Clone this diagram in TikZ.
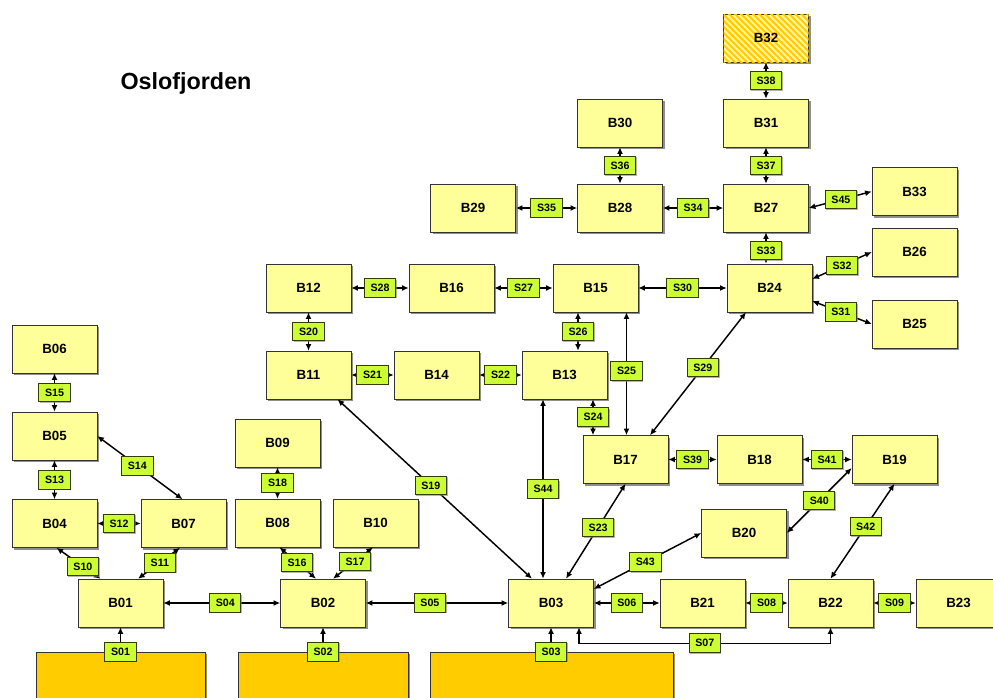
\documentclass[tikz,border=0pt]{standalone}
\usepackage{fontspec}
\setmainfont{Liberation Sans}
\usetikzlibrary{calc}
\usetikzlibrary{positioning}
\usetikzlibrary{arrows.meta}
\usetikzlibrary{shadows,patterns.meta}
\definecolor{basinyellow}{HTML}{FFFF99}
\definecolor{hatchlight}{HTML}{FFF4A8}
\definecolor{sourcegold}{HTML}{FFCC00}
\definecolor{sillgreen}{HTML}{CCFF33}
\definecolor{silledge}{HTML}{3A3A00}

\begin{document}
\begin{tikzpicture}[%
  x=0.75pt, y=-0.75pt,
  >={Latex[length=5pt,width=4.5pt]},
  basin/.style={draw=black!80, fill=basinyellow, minimum width=63.75pt,
    minimum height=36pt, inner sep=0pt, font=\bfseries\fontsize{10}{12}\selectfont,
    drop shadow={shadow xshift=1.5pt, shadow yshift=-1.5pt, fill=black!55, opacity=0.8}},
  source/.style={draw=black!80, fill=sourcegold, minimum height=45pt, inner sep=0pt,
    drop shadow={shadow xshift=1.5pt, shadow yshift=-1.5pt, fill=black!55, opacity=0.8}},
  sill/.style={draw=silledge, fill=sillgreen, line width=0.7pt, minimum width=23.5pt,
    minimum height=14pt, inner sep=0pt, font=\bfseries\fontsize{8}{9}\selectfont,
    drop shadow={shadow xshift=0.8pt, shadow yshift=-0.8pt, fill=black!50, opacity=0.6}},
  link/.style={<->, line width=1.1pt},
  feed/.style={->, line width=1.1pt},
]

  \useasboundingbox (0,0) rectangle (993,697);

  \node[font=\bfseries\fontsize{17.5}{20}\selectfont] (title) at (186,83) {Oslofjorden};

  \node[source, minimum width=126.75pt] (src1) at (120.5,682) {};
  \node[source, minimum width=127.5pt] (src2) at (323,682) {};
  \node[source, minimum width=182.25pt] (src3) at (551.5,682) {};

  \node[basin] (B01) at (120.5,603) {B01};
  \node[basin] (B02) at (323,603) {B02};
  \node[basin] (B03) at (551,603) {B03};
  \node[basin] (B04) at (54.5,523.5) {B04};
  \node[basin] (B05) at (54.5,436) {B05};
  \node[basin] (B06) at (54.5,349) {B06};
  \node[basin] (B07) at (183.5,523.5) {B07};
  \node[basin] (B08) at (277.5,523) {B08};
  \node[basin] (B09) at (277.5,443) {B09};
  \node[basin] (B10) at (375.5,523) {B10};
  \node[basin] (B11) at (308.5,375) {B11};
  \node[basin] (B12) at (308.5,288) {B12};
  \node[basin] (B13) at (564.5,375) {B13};
  \node[basin] (B14) at (436.5,375) {B14};
  \node[basin] (B15) at (595.5,288) {B15};
  \node[basin] (B16) at (451.5,288) {B16};
  \node[basin] (B17) at (625.5,459.5) {B17};
  \node[basin] (B18) at (759.5,459.5) {B18};
  \node[basin] (B19) at (894.5,459.5) {B19};
  \node[basin] (B20) at (744,533) {B20};
  \node[basin] (B21) at (702.5,603) {B21};
  \node[basin] (B22) at (830.5,603) {B22};
  \node[basin] (B23) at (958.5,603) {B23};
  \node[basin] (B24) at (769.5,288) {B24};
  \node[basin] (B25) at (914.5,324) {B25};
  \node[basin] (B26) at (914.5,252) {B26};
  \node[basin] (B27) at (766,208) {B27};
  \node[basin] (B28) at (620,208) {B28};
  \node[basin] (B29) at (473,208) {B29};
  \node[basin] (B30) at (620,123) {B30};
  \node[basin] (B31) at (766,123) {B31};
  \node[basin, fill=hatchlight, postaction={pattern={Lines[angle=-45,distance=3.2pt,line width=1.5pt]}, pattern color=sourcegold}] (B32) at (766,38) {B32};
  \node[basin] (B33) at (914.5,191.5) {B33};

  \draw[feed] (src1.north -| B01) -- node[sill,pos=0] (S01) {S01} (B01);
  \draw[feed] (src2.north -| B02) -- node[sill,pos=0] (S02) {S02} (B02);
  \draw[feed] (src3.north -| B03) -- node[sill,pos=0] (S03) {S03} (B03);

  \draw[link] (B01) -- node[sill,pos=0.53] (S04) {S04} (B02);
  \draw[link] (B02) -- node[sill,pos=0.45] (S05) {S05} (B03);
  \draw[link] (B03) -- node[sill] (S06) {S06} (B21);
  \draw[link] ($(B03.south)+(28,0)$) -- ++(0,16) -| node[sill,pos=0.25] (S07) {S07} (B22.south);
  \draw[link] (B21) -- node[sill] (S08) {S08} (B22);
  \draw[link] (B22) -- node[sill] (S09) {S09} (B23);
  \draw[link] ($(B04.south)+(2,0)$) -- node[sill,pos=0.6] (S10) {S10} ($(B01.north)+(-20,0)$);
  \draw[link] ($(B07.south)+(-3.5,0)$) -- node[sill,pos=0.48] (S11) {S11} ($(B01.north)+(17.5,0)$);
  \draw[link] (B04) -- node[sill] (S12) {S12} (B07);
  \draw[link] (B05) -- node[sill] (S13) {S13} (B04);
  \draw[link] (B05.east) -- node[sill,pos=0.47] (S14) {S14} ($(B07.north)+(-1,0)$);
  \draw[link] (B06) -- node[sill] (S15) {S15} (B05);
  \draw[link] ($(B08.south)+(2,0)$) -- node[sill,pos=0.48] (S16) {S16} ($(B02.north)+(-7,0)$);
  \draw[link] ($(B10.south)+(-2.5,0)$) -- node[sill,pos=0.45] (S17) {S17} ($(B02.north)+(10,0)$);
  \draw[link] (B09) -- node[sill] (S18) {S18} (B08);
  \draw[link] ($(B11.south)+(29,0)$) -- node[sill,pos=0.48] (S19) {S19} ($(B03.north)+(-19,0)$);
  \draw[link] (B12) -- node[sill] (S20) {S20} (B11);
  \draw[link] (B11) -- node[sill] (S21) {S21} (B14);
  \draw[link] (B14) -- node[sill] (S22) {S22} (B13);
  \draw[link] ($(B03.north)+(15,0)$) -- node[sill,pos=0.54] (S23) {S23} (B17.south);
  \draw[link] ($(B13.south)+(28.5,0)$) -- node[sill] (S24) {S24} ($(B17.north)+(-32.5,0)$);
  \draw[link] ($(B15.south)+(31,0)$) -- node[sill,pos=0.48] (S25) {S25} ($(B17.north)+(1,0)$);
  \draw[link] ($(B15.south)+(-17.5,0)$) -- node[sill] (S26) {S26} ($(B13.north)+(13.5,0)$);
  \draw[link] (B16) -- node[sill] (S27) {S27} (B15);
  \draw[link] (B12) -- node[sill] (S28) {S28} (B16);
  \draw[link] ($(B17.north)+(24.5,0)$) -- node[sill,pos=0.55] (S29) {S29} ($(B24.south)+(-23.5,0)$);
  \draw[link] (B15) -- node[sill] (S30) {S30} (B24);
  \draw[link] ($(B24.east)+(0,13)$) -- node[sill,pos=0.48] (S31) {S31} (B25.west);
  \draw[link] ($(B24.east)+(0,-9)$) -- node[sill] (S32) {S32} (B26.west);
  \draw[link] (B27.south) -- node[sill,pos=0.58] (S33) {S33} (B24.north -| B27);
  \draw[link] (B28) -- node[sill] (S34) {S34} (B27);
  \draw[link] (B29) -- node[sill] (S35) {S35} (B28);
  \draw[link] (B30) -- node[sill] (S36) {S36} (B28);
  \draw[link] (B31) -- node[sill] (S37) {S37} (B27);
  \draw[link] (B32) -- node[sill] (S38) {S38} (B31);
  \draw[link] (B17) -- node[sill] (S39) {S39} (B18);
  \draw[link] ($(B19.west)+(0,8.5)$) -- node[sill] (S40) {S40} (B20.east);
  \draw[link] (B18) -- node[sill] (S41) {S41} (B19);
  \draw[link] (B19.south) -- node[sill,pos=0.45] (S42) {S42} (B22.north);
  \draw[link] ($(B03.east)+(0,-14)$) -- node[sill,pos=0.48] (S43) {S43} (B20.west);
  \draw[link] ($(B13.south)+(-21.5,0)$) -- node[sill] (S44) {S44} ($(B03.north)+(-8,0)$);
  \draw[link] (B27.east) -- node[sill,pos=0.51] (S45) {S45} (B33.west);

\end{tikzpicture}
\end{document}
